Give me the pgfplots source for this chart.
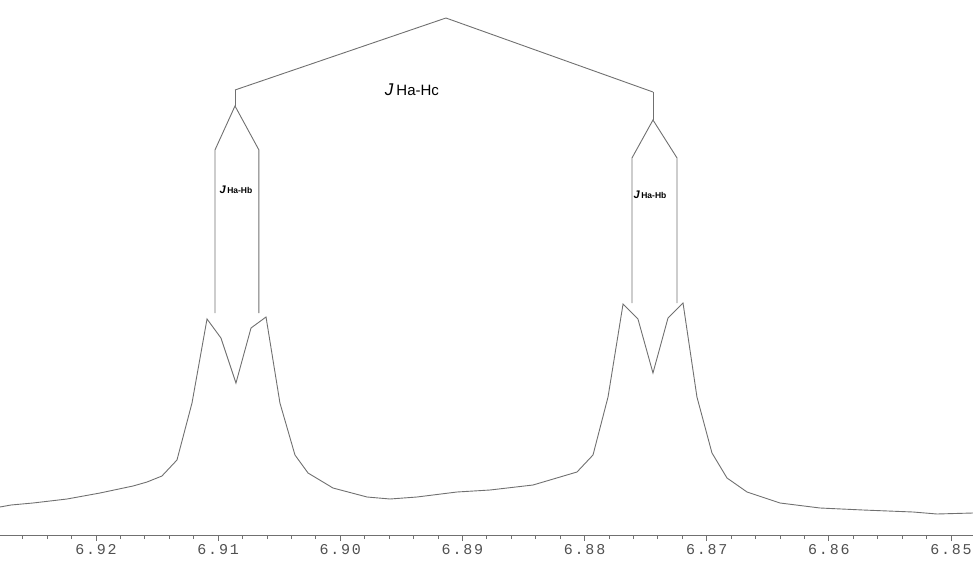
\documentclass[border=0pt]{standalone}
\usepackage{pgfplots}
\pgfplotsset{compat=1.18}
\usepackage{fontspec}
\setmainfont{Liberation Sans}
\newfontfamily\monofont[LetterSpace=12]{Liberation Mono}
\definecolor{spec}{HTML}{707070}
\definecolor{lbl}{HTML}{505050}
\begin{document}
\begin{tikzpicture}[x=1pt,y=1pt]
\useasboundingbox (0,0) rectangle (973,563);
\begin{axis}[
  at={(0pt,28pt)}, anchor=south west,
  scale only axis, width=973pt, height=535pt,
  x dir=reverse,
  xmin=6.84820, xmax=6.92786,
  ymin=6, ymax=541,
  axis x line*=bottom, axis y line=none,
  x axis line style={spec, line width=0.8pt},
  xtick={6.85,6.86,...,6.925},
  minor x tick num=4,
  xtick pos=lower, tick align=outside,
  major tick length=6pt, minor tick length=4pt,
  every tick/.style={spec, line width=0.8pt},
  /pgf/number format/assume math mode=true,
  /pgf/number format/.cd, fixed, fixed zerofill, precision=2, /pgfplots/.cd,
  xticklabel style={font=\monofont\fontsize{15}{15}\selectfont, text=lbl, inner sep=0pt, yshift=-3pt},
  clip=false,
]
\addplot[spec, line width=0.9pt] coordinates {
(6.92786,34) (6.92696,36) (6.92516,38) (6.92237,42) (6.91967,48) (6.91697,55)
(6.91582,59) (6.91460,65) (6.91337,81) (6.91214,138) (6.91091,222) (6.90977,203)
(6.90854,158) (6.90731,213) (6.90608,224) (6.90494,138) (6.90371,86) (6.90264,68)
(6.90060,53) (6.89781,44) (6.89593,42) (6.89372,44) (6.89044,49) (6.88774,51)
(6.88422,56) (6.88062,69) (6.87931,86) (6.87808,144) (6.87685,237) (6.87563,222)
(6.87440,168) (6.87317,223) (6.87194,238) (6.87080,144) (6.86957,88) (6.86834,63)
(6.86670,49) (6.86400,38) (6.86072,33) (6.85721,31) (6.85311,29) (6.85115,27)
(6.84820,28)
};
% coupling tree
\addplot[spec, line width=0.9pt] coordinates {
(6.90862,451) (6.89135,523) (6.87440,449)
};
\addplot[spec, line width=0.9pt] coordinates {
(6.91026,228) (6.91026,391) (6.90862,435) (6.90666,391) (6.90666,228)
};
\addplot[spec, line width=0.9pt] coordinates {(6.90862,451) (6.90862,435)};
\addplot[spec, line width=0.9pt] coordinates {
(6.87612,238) (6.87612,383) (6.87440,421) (6.87243,383) (6.87243,238)
};
\addplot[spec, line width=0.9pt] coordinates {(6.87440,449) (6.87440,421)};
\node[text=black, inner sep=0pt] at (axis cs:6.89413,451)
  {{\fontsize{17}{17}\selectfont\itshape J}\hspace{3pt}{\fontsize{15}{15}\selectfont Ha-Hc}};
\node[text=black, inner sep=0pt] at (axis cs:6.90854,351)
  {{\fontsize{11}{11}\selectfont\bfseries\itshape J}\hspace{1.5pt}{\fontsize{8.5}{8.5}\selectfont\bfseries Ha-Hb}};
\node[text=black, inner sep=0pt] at (axis cs:6.87464,346)
  {{\fontsize{11}{11}\selectfont\bfseries\itshape J}\hspace{1.5pt}{\fontsize{8.5}{8.5}\selectfont\bfseries Ha-Hb}};
\end{axis}
\end{tikzpicture}
\end{document}
